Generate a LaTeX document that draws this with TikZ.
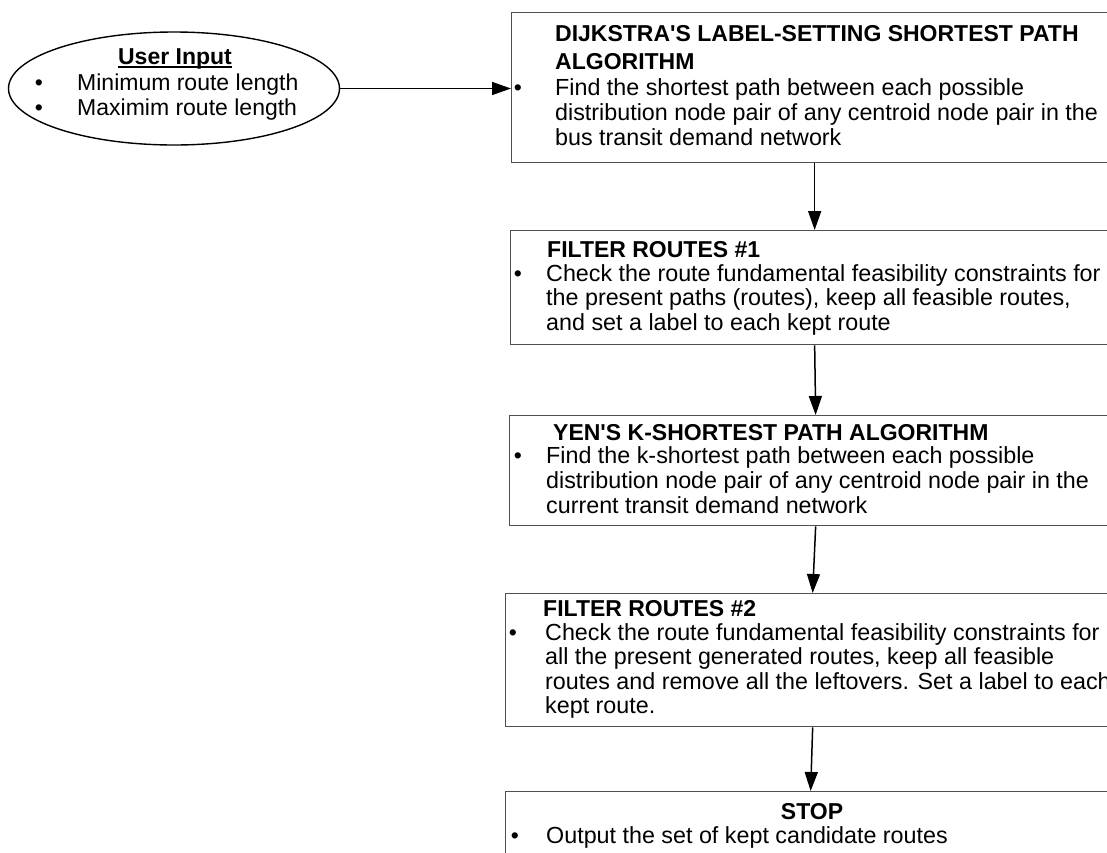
\documentclass[tikz,border=0pt]{standalone}
\usepackage{fontspec}
\setmainfont{Liberation Sans}
\usetikzlibrary{shapes.geometric,arrows.meta,calc}
\definecolor{boxgray}{HTML}{505050}
\begin{document}
\begin{tikzpicture}[x=1pt,y=-1pt,
  box/.style={draw=boxgray,line width=1.3pt,anchor=north west,inner sep=0pt},
  txt/.style={anchor=base west,inner sep=0pt,font=\fontsize{23.3}{25}\selectfont},
  ttl/.style={anchor=base west,inner sep=0pt,font=\fontsize{23}{25}\selectfont\bfseries},
  bul/.style={anchor=base,inner sep=0pt,font=\fontsize{23}{25}\selectfont},
  flow/.style={line width=1.5pt,-{Triangle[length=19pt,width=13pt]}}]
\useasboundingbox (0,0) rectangle (1107,852);
\clip (0,0) rectangle (1107,852);

% user input ellipse
\node[ellipse,draw,line width=1.4pt,minimum width=331pt,minimum height=113pt,inner sep=0pt] (u) at (174,88.5) {};
\node[anchor=base,inner sep=0pt,font=\fontsize{23}{25}\selectfont\bfseries] (ui) at (175,64) {User Input};
\draw[line width=1.3pt] ($(ui.base west)+(0,3)$) -- ($(ui.base east)+(0,3)$);
\node[bul] (ub1) at (39,90) {•};
\node[anchor=base west,inner sep=0pt,font=\fontsize{23}{25}\selectfont] (ut1) at (77,90) {Minimum route length};
\node[bul] (ub2) at (39,115) {•};
\node[anchor=base west,inner sep=0pt,font=\fontsize{23}{25}\selectfont] (ut2) at (77,115) {Maximim route length};

% boxes
\node[box,minimum width=606pt,minimum height=150pt] (b1) at (511,12) {};
\node[box,minimum width=608pt,minimum height=114pt] (b2) at (510,230) {};
\node[box,minimum width=612pt,minimum height=110pt] (b3) at (509,415) {};
\node[box,minimum width=614pt,minimum height=133pt] (b4) at (505,593) {};
\node[box,minimum width=610pt,minimum height=90pt] (b5) at (505,791) {};

% box 1
\node[ttl] (t1a) at (555,41) {DIJKSTRA\textquotesingle S LABEL-SETTING SHORTEST PATH};
\node[ttl] (t1b) at (555,69) {ALGORITHM};
\node[bul] (p1) at (518,95) {•};
\node[txt] (l1a) at (555,95) {Find the shortest path between each possible};
\node[txt] (l1b) at (555,120) {distribution node pair of any centroid node pair in the};
\node[txt] (l1c) at (555,145) {bus transit demand network};

% box 2
\node[ttl] (t2) at (547,257) {FILTER ROUTES \#1};
\node[bul] (p2) at (518,281) {•};
\node[txt] (l2a) at (546,281) {Check the route fundamental feasibility constraints for};
\node[txt] (l2b) at (546,305.5) {the present paths (routes), keep all feasible routes,};
\node[txt] (l2c) at (546,330) {and set a label to each kept route};

% box 3
\node[ttl] (t3) at (553,440) {YEN\textquotesingle S K-SHORTEST PATH ALGORITHM};
\node[bul] (p3) at (518,463) {•};
\node[txt] (l3a) at (546,463) {Find the k-shortest path between each possible};
\node[txt] (l3b) at (546,488) {distribution node pair of any centroid node pair in the};
\node[txt] (l3c) at (546,513) {current transit demand network};

% box 4
\node[ttl] (t4) at (543,616) {FILTER ROUTES \#2};
\node[bul] (p4) at (513,640) {•};
\node[txt] (l4a) at (545,640) {Check the route fundamental feasibility constraints for};
\node[txt] (l4b) at (545,664.5) {all the present generated routes, keep all feasible};
\node[txt] (l4c) at (545,689) {routes and remove all the leftovers. Set a label to each};
\node[txt] (l4d) at (545,713.5) {kept route.};

% box 5
\node[anchor=base,inner sep=0pt,font=\fontsize{23}{25}\selectfont\bfseries] (t5) at (812,819) {STOP};
\node[bul] (p5) at (515,843) {•};
\node[txt] (l5a) at (546,843) {Output the set of kept candidate routes};

% connectors
\draw[flow] (u.east) -- (u.east -| b1.west);
\draw[flow] (b1.south) -- (b2.north);
\draw[flow] (b2.south) -- (b3.north);
\draw[flow] (b3.south) -- (b4.north);
\draw[flow] (b4.south) -- (b5.north);
\end{tikzpicture}
\end{document}
